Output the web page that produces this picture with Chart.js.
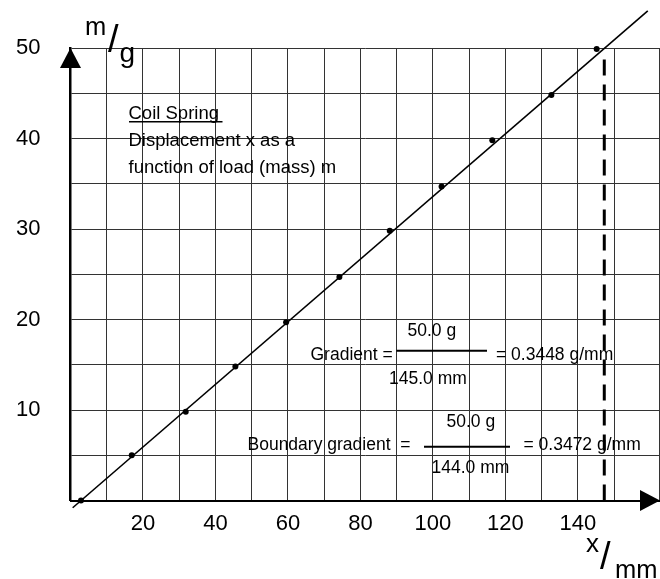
<!DOCTYPE html>
<html>
<head>
<meta charset="utf-8">
<script src="https://cdn.jsdelivr.net/npm/chart.js@4/dist/chart.umd.min.js"></script>
<style>
  html, body { margin: 0; padding: 0; background: #fff; }
  canvas { display: block; }
</style>
</head>
<body>
<canvas id="c" width="660" height="579"></canvas>
<script>
// Measured load (mass) against displacement of the coil spring
const massG = [0, 5, 9.8, 14.8, 19.7, 24.7, 29.8, 34.7, 39.8, 44.8, 49.9];
const dispMm = [2.9, 16.9, 31.8, 45.5, 59.5, 74.2, 88.1, 102.4, 116.4, 132.7, 145.2];

// Best-fit straight line (gradient 50.0 g / 145.0 mm), end points
const fitX = [0.6, 159.3];
const fitM = [-0.8, 54.1];

// Boundary (dashed) line at the last reading
const boundX = [147.3, 147.3];
const boundM = [0, 49.6];

// Axis ticks
const xGrid = [0, 10, 20, 30, 40, 50, 60, 70, 80, 90, 100, 110, 120, 130, 140, 150, 162.4];
const xLabels = [20, 40, 60, 80, 100, 120, 140];
const yLabels = [10, 20, 30, 40, 50];

const FONT = '"Liberation Sans", Arial, sans-serif';

const toPoints = (xs, ys) => xs.map((x, i) => ({ x: x, y: ys[i] }));

// Annotation text, arrows and axis titles
const decor = {
  id: 'decor',
  afterDraw(chart) {
    const ctx = chart.ctx;
    const a = chart.chartArea;
    ctx.save();
    ctx.fillStyle = '#000';
    ctx.strokeStyle = '#000';
    ctx.textBaseline = 'alphabetic';
    ctx.textAlign = 'left';

    // arrow heads
    ctx.beginPath();
    ctx.moveTo(a.left, a.top);
    ctx.lineTo(a.left - 10.5, a.top + 20);
    ctx.lineTo(a.left + 10.5, a.top + 20);
    ctx.closePath();
    ctx.fill();
    ctx.beginPath();
    ctx.moveTo(660, a.bottom);
    ctx.lineTo(640, a.bottom - 10.5);
    ctx.lineTo(640, a.bottom + 10.5);
    ctx.closePath();
    ctx.fill();

    // axis titles
    ctx.font = '25.5px ' + FONT;
    ctx.fillText('m', 85, 35);
    ctx.font = '38px ' + FONT;
    ctx.fillText('/', 108, 52);
    ctx.font = '28px ' + FONT;
    ctx.fillText('g', 119.5, 62);

    ctx.font = '26px ' + FONT;
    ctx.fillText('x', 586, 552);
    ctx.font = '38px ' + FONT;
    ctx.fillText('/', 600, 569);
    ctx.font = '25.5px ' + FONT;
    ctx.fillText('mm', 615, 578);

    // caption
    ctx.font = '18.5px ' + FONT;
    ctx.fillText('Coil Spring', 128.5, 119);
    ctx.fillText('Displacement x as a', 128.5, 145.5);
    ctx.fillText('function of load (mass) m', 128.5, 172.5);
    ctx.lineWidth = 1.5;
    ctx.beginPath();
    ctx.moveTo(129, 121.8);
    ctx.lineTo(222.5, 121.8);
    ctx.stroke();

    // gradient of best-fit line
    ctx.font = '17.5px ' + FONT;
    ctx.fillText('Gradient =', 310.5, 360);
    ctx.fillText('50.0 g', 407.5, 336);
    ctx.fillText('145.0 mm', 389, 383.5);
    ctx.fillText('= 0.3448 g/mm', 496, 360);
    ctx.lineWidth = 2;
    ctx.beginPath();
    ctx.moveTo(396.5, 350.7);
    ctx.lineTo(487, 350.7);
    ctx.stroke();

    // gradient of boundary line
    ctx.fillText('Boundary gradient  =', 247.5, 449.5);
    ctx.fillText('50.0 g', 446.5, 426.7);
    ctx.fillText('144.0 mm', 431.5, 473.3);
    ctx.fillText('= 0.3472 g/mm', 523.5, 449.5);
    ctx.beginPath();
    ctx.moveTo(424, 446.7);
    ctx.lineTo(510, 446.7);
    ctx.stroke();

    ctx.restore();
  }
};

new Chart(document.getElementById('c'), {
  type: 'scatter',
  data: {
    datasets: [
      {
        data: toPoints(fitX, fitM),
        showLine: true,
        borderColor: '#000',
        borderWidth: 1.6,
        pointRadius: 0,
        clip: false,
        order: 2
      },
      {
        data: toPoints(boundX, boundM),
        showLine: true,
        borderColor: '#000',
        borderWidth: 3,
        borderDash: [16, 9],
        pointRadius: 0,
        order: 3
      },
      {
        data: toPoints(dispMm, massG),
        showLine: false,
        backgroundColor: '#000',
        borderColor: '#000',
        borderWidth: 0,
        pointRadius: 3,
        clip: false,
        order: 1
      }
    ]
  },
  options: {
    responsive: false,
    animation: false,
    devicePixelRatio: 1,
    layout: { autoPadding: false, padding: { top: 48, right: 1, left: 0, bottom: 0 } },
    plugins: {
      legend: { display: false },
      tooltip: { enabled: false }
    },
    scales: {
      x: {
        type: 'linear',
        min: 0,
        max: 162.4,
        afterBuildTicks: s => { s.ticks = xGrid.map(v => ({ value: v })); },
        afterFit: s => { s.height = 78.5; s.paddingLeft = 0; s.paddingRight = 0; },
        grid: { color: '#333', lineWidth: 1, drawTicks: false },
        border: { display: true, color: '#000', width: 2 },
        ticks: {
          padding: 10.5,
          color: '#000',
          maxRotation: 0,
          autoSkip: false,
          font: { family: FONT, size: 22 },
          callback: v => (xLabels.includes(v) ? String(v) : '')
        }
      },
      y: {
        type: 'linear',
        min: 0,
        max: 50,
        afterBuildTicks: s => {
          const t = [];
          for (let v = 0; v <= 50; v += 5) t.push({ value: v });
          s.ticks = t;
        },
        afterFit: s => { s.width = 70.5; s.paddingTop = 0; s.paddingBottom = 0; },
        grid: { color: '#333', lineWidth: 1, drawTicks: false },
        border: { display: true, color: '#000', width: 2.5 },
        ticks: {
          padding: 30,
          color: '#000',
          autoSkip: false,
          font: { family: FONT, size: 22 },
          callback: v => (yLabels.includes(v) ? String(v) : '')
        }
      }
    }
  },
  plugins: [decor]
});
</script>
</body>
</html>
